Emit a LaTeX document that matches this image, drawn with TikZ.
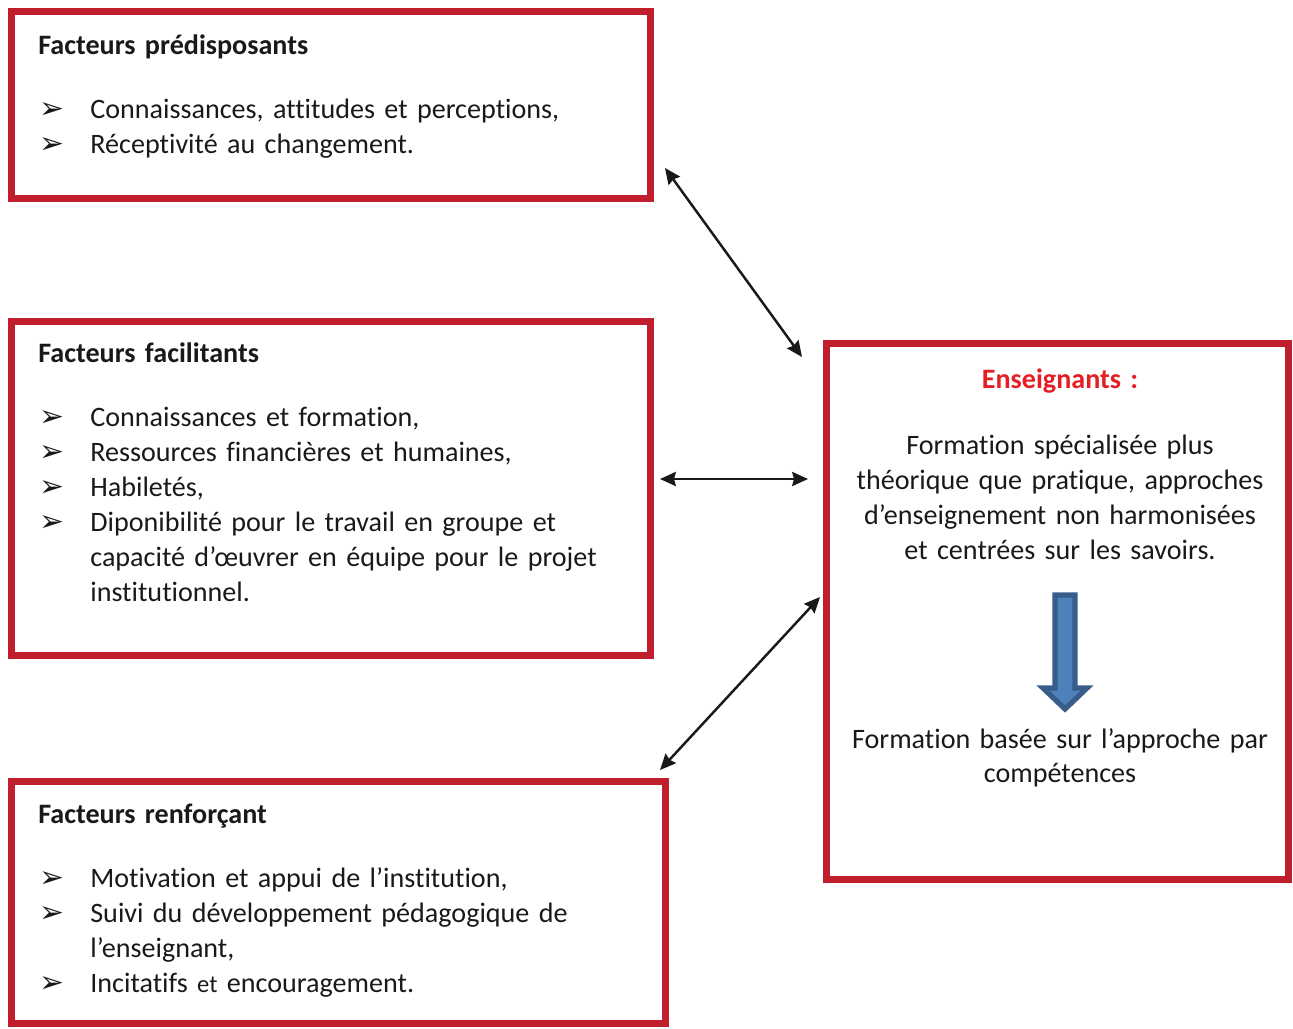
\documentclass[tikz,border=0pt]{standalone}
\usepackage{fontspec}
\setmainfont{Carlito}[Ligatures=NoCommon]
\newfontfamily\symfont{DejaVu Sans}
\usetikzlibrary{arrows.meta}

\definecolor{boxred}{RGB}{192,30,45}
\definecolor{titlered}{RGB}{228,30,36}
\definecolor{arrowfill}{RGB}{79,129,189}
\definecolor{arrowedge}{RGB}{56,93,138}
\definecolor{textdark}{RGB}{25,25,25}

% bullet and hanging item
\newcommand{\puce}{{\symfont\fontsize{17}{17}\selectfont ➢}}
\newcommand{\itm}[1]{\par\hangindent=1.04cm\hangafter=1\noindent\makebox[1.04cm][l]{\hspace{0.02cm}\puce}#1}

\begin{document}
\begin{tikzpicture}[x=0.02cm, y=-0.02cm, >={Stealth[length=9pt,width=8pt,inset=1pt]},
    facbox/.style={draw=boxred, line width=4pt, anchor=north west, inner sep=0pt},
    boxtext/.style={anchor=base west, text width=600*0.02cm, align=left, inner sep=0pt,
      font=\fontsize{16}{19.9}\selectfont, text=textdark},
    enstext/.style={anchor=base, text width=460*0.02cm, align=center, inner sep=0pt,
      font=\fontsize{16}{19.9}\selectfont, text=textdark},
    dbl/.style={<->, line width=1.4pt, black!90}]
  \useasboundingbox (0,0) rectangle (1293,1028);

  % --- the three groups of factors ---
  \node[facbox, minimum width=639*0.02cm, minimum height=187*0.02cm] (pred) at (8,8) {};
  \node[facbox, minimum width=639*0.02cm, minimum height=334*0.02cm] (facil) at (8,318) {};
  \node[facbox, minimum width=654*0.02cm, minimum height=242*0.02cm] (renf) at (8,778) {};

  \node[boxtext] (predtext) at (38,54) {\textbf{Facteurs prédisposants}\par\vspace{0.60cm}
    \itm{Connaissances, attitudes et perceptions,}
    \itm{Réceptivité au changement.}\par};

  \node[boxtext] (faciltext) at (38,362) {\textbf{Facteurs facilitants}\par\vspace{0.60cm}
    \itm{Connaissances et formation,}
    \itm{Ressources financières et humaines,}
    \itm{Habiletés,}
    \itm{Diponibilité pour le travail en groupe et\newline capacité d’œuvrer en équipe pour le projet\newline institutionnel.}\par};

  \node[boxtext] (renftext) at (38,823) {\textbf{Facteurs renforçant}\par\vspace{0.60cm}
    \itm{Motivation et appui de l’institution,}
    \itm{Suivi du développement pédagogique de\newline l’enseignant,}
    \itm{Incitatifs {\fontsize{14}{19.9}\selectfont et} encouragement.}\par};

  % --- teachers ---
  \node[facbox, minimum width=462*0.02cm, minimum height=536*0.02cm] (ens) at (823,340) {};

  \node[enstext] (enshead) at (1060,388) {\textcolor{titlered}{\textbf{Enseignants :}}\par\vspace{0.64cm}
    Formation spécialisée plus\\théorique que pratique, approches\\d’enseignement non harmonisées\\et centrées sur les savoirs.};
  \node[enstext] (ensnew) at (1060,748) {Formation basée sur l’approche par\\compétences};

  % shift arrow
  \draw[fill=arrowfill, draw=arrowedge, line width=3pt, line join=miter]
    (1055,595) -- (1075,595) -- (1075,688) -- (1087,688) -- (1065,709)
    -- (1043,688) -- (1055,688) -- cycle;

  % --- links ---
  \coordinate (predlink) at (665,168);
  \coordinate (enstop) at (802,357);
  \coordinate (faciellink) at (660,479);
  \coordinate (ensmid) at (808,479);
  \coordinate (ensbot) at (820,597);
  \coordinate (renflink) at (660,770);

  \draw[dbl] (predlink) -- (enstop);
  \draw[dbl] (faciellink) -- (ensmid);
  \draw[dbl] (ensbot) -- (renflink);
\end{tikzpicture}
\end{document}
